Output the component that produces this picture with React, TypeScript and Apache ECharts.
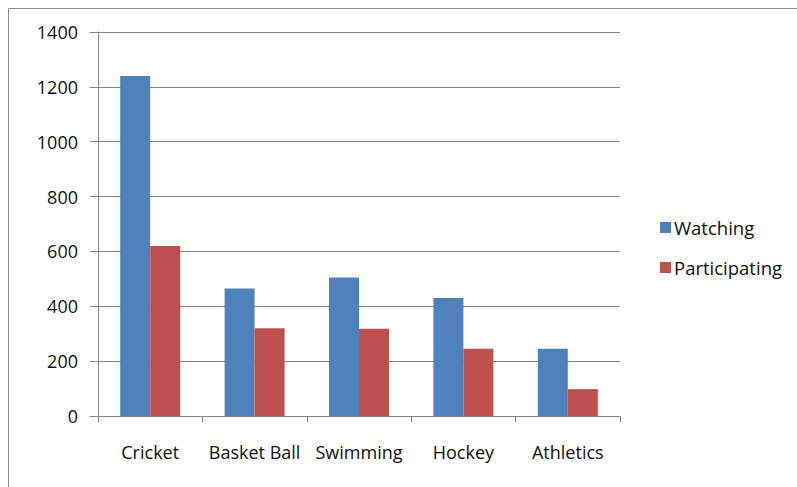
import React, { useEffect, useRef } from "react";
import * as echarts from "echarts";

const categories = ["Cricket", "Basket Ball", "Swimming", "Hockey", "Athletics"];
const watching = [1240, 465, 505, 430, 245];
const participating = [620, 320, 318, 245, 98];
const seriesNames = ["Watching", "Participating"];

const FONT = "'Open Sans', 'Liberation Sans', sans-serif";
const TEXT = "#111111";

export default function App() {
  const ref = useRef<HTMLDivElement>(null);
  useEffect(() => {
    if (!ref.current) return;
    const chart = echarts.init(ref.current, undefined, { renderer: "svg" });
    chart.setOption({
      animation: false,
      backgroundColor: "#ffffff",
      textStyle: { fontFamily: FONT },
      graphic: [
        {
          type: "rect",
          shape: { x: 8.5, y: 8.5, width: 820, height: 520 },
          style: { fill: "none", stroke: "#8a8a8a", lineWidth: 1 },
          silent: true,
        },
      ],
      grid: { left: 98, right: 177, top: 32, bottom: 71 },
      legend: {
        orient: "vertical",
        left: 655,
        top: 213,
        itemWidth: 11,
        itemHeight: 11,
        itemGap: 21,
        icon: "rect",
        textStyle: { fontFamily: FONT, fontSize: 18.5, color: TEXT, padding: [0, 0, 0, -2] },
        data: seriesNames,
      },
      xAxis: {
        type: "category",
        data: categories,
        axisLine: { lineStyle: { color: "#868686", width: 1 } },
        axisTick: { show: true, length: 6, alignWithLabel: false, lineStyle: { color: "#868686" } },
        axisLabel: { interval: 0, margin: 27, fontSize: 18, color: TEXT, fontFamily: FONT },
      },
      yAxis: {
        type: "value",
        min: 0,
        max: 1400,
        interval: 200,
        axisLine: { show: true, lineStyle: { color: "#868686", width: 1 } },
        axisTick: { show: true, length: 8, inside: false, lineStyle: { color: "#868686" } },
        axisLabel: {
          margin: 20,
          fontSize: 18,
          color: TEXT,
          fontFamily: FONT,
          formatter: (v: number) => String(v),
        },
        splitLine: { show: true, lineStyle: { color: "#868686", width: 1 } },
      },
      series: [
        {
          name: seriesNames[0],
          type: "bar",
          data: watching,
          barWidth: 30,
          barGap: "0%",
          itemStyle: { color: "#4F81BD" },
        },
        {
          name: seriesNames[1],
          type: "bar",
          data: participating,
          barWidth: 30,
          barGap: "0%",
          itemStyle: { color: "#C0504D" },
        },
      ],
    });
    return () => chart.dispose();
  }, []);
  return (
    <div
      ref={ref}
      style={{ position: "fixed", left: 0, top: 0, width: 797, height: 487 }}
    />
  );
}
